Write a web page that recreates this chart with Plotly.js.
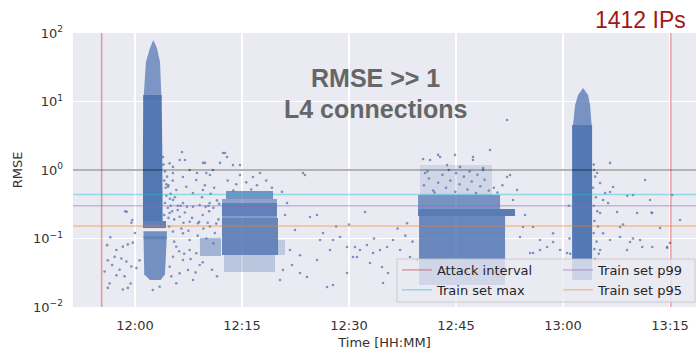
<!DOCTYPE html>
<html><head><meta charset="utf-8">
<script src="https://cdn.plot.ly/plotly-3.0.1.min.js"></script>
<style>html,body{margin:0;padding:0;background:#fff;}#chart{width:696px;height:353px;}</style>
</head><body><div id="chart"></div>
<script>
// ---------- data (time in minutes after 12:00, RMSE values) ----------
const DAY = '2024-01-01 ';
const xStart = '11:51:19', xEnd = '13:18:38';
const attackInterval = ['11:55:20', '13:15:06'];
const rmseOne = 1.0;
const trainMax = 0.44, trainP99 = 0.30, trainP95 = 0.152;
const yTickVals = [0.01, 0.1, 1, 10, 100];
const yTickText = ['10<sup>−2</sup>', '10<sup>−1</sup>', '10<sup>0</sup>', '10<sup>1</sup>', '10<sup>2</sup>'];

// dense regions (outlines)
const aTopT = [2.57, 2.10, 1.54, 1.33, 1.19, 3.72, 3.65, 3.51, 3.08];
const aTopR = [79, 60.4, 37.7, 20.6, 10.5, 10.5, 20.6, 37.7, 60.4];
const aMainT = [1.16, 3.74, 3.83, 3.88, 1.12, 1.12];
const aMainR = [12.4, 12.4, 1.96, 0.18, 0.18, 1.96];
const aBandT = [1.12, 4.35, 4.35, 1.12];
const aBandR = [0.18, 0.18, 0.142, 0.142];
const aLowT = [1.19, 4.49, 4.35, 4.21, 3.6, 2.1, 1.3];
const aLowR = [0.128, 0.128, 0.06, 0.03, 0.0248, 0.0248, 0.03];
const aLowBandT = [1.19, 4.5, 4.5, 1.19];
const aLowBandR = [0.108, 0.108, 0.098, 0.098];

const bLeftT = [9.11, 12.06, 12.06, 9.11];
const bLeftR = [0.102, 0.102, 0.0555, 0.0555];
const bTopT = [12.76, 19.35, 19.35, 12.76];
const bTopR = [0.494, 0.494, 0.377, 0.377];
const bUpT = [12.2, 19.9, 19.9, 12.2];
const bUpR = [0.377, 0.377, 0.33, 0.33];
const bMidT = [12.2, 19.9, 19.9, 12.2];
const bMidR = [0.33, 0.33, 0.213, 0.213];
const bMidGapT = [12.2, 19.9, 19.9, 12.2];
const bMidGapR = [0.213, 0.213, 0.199, 0.199];
const bLowT = [12.2, 20.05, 20.05, 12.2];
const bLowR = [0.199, 0.199, 0.0574, 0.0574];
const bBottomT = [12.48, 19.63, 19.63, 12.48];
const bBottomR = [0.0574, 0.0574, 0.0324, 0.0324];
const bRightT = [19.9, 21.03, 21.03, 19.9];
const bRightR = [0.095, 0.095, 0.0574, 0.0574];

const cTopFadeT = [39.96, 50.05, 50.05, 39.96];
const cTopFadeR = [1.18, 1.18, 0.432, 0.432];
const cUpperT = [39.68, 51.17, 51.17, 39.68];
const cUpperR = [0.432, 0.432, 0.27, 0.27];
const cBandT = [39.68, 53.27, 53.27, 39.68];
const cBandR = [0.27, 0.27, 0.213, 0.213];
const cLowerT = [39.82, 51.87, 51.87, 39.82];
const cLowerR = [0.213, 0.213, 0.021, 0.021];

const dTopT = [62.8, 62.11, 61.69, 61.4, 64.0, 63.79, 63.51];
const dTopR = [15.7, 12.4, 8.89, 4.54, 4.54, 8.89, 12.4];
const dMainT = [61.27, 64.07, 64.07, 61.27];
const dMainR = [4.54, 4.54, 0.0248, 0.0248];

// scattered individual points
const preT = [-1.36,-0.38,-3.46,-3.9,-2.6,-1.7,-1.0,-0.3,-2.85,-1.9,-3.8,-1.2,-3.2,-2.15,-0.5,-4.25,-2.6,-1.45,-3.55,-1.7,-1.0,-3.8,0.2,0.65,0.0,-1.16,-0.5,2.5,3.46,-0.6];
const preR = [0.25,0.186,0.104,0.08,0.068,0.076,0.082,0.087,0.054,0.051,0.048,0.046,0.041,0.035,0.039,0.033,0.029,0.028,0.022,0.018,0.019,0.019,0.037,0.048,0.12,0.246,0.17,0.0177,0.0198,0.022];
const tailAT = [4.0,4.2,4.5,4.1,4.7,4.3,5.0,4.4,4.9,5.6,4.2,4.6,5.2,4.1,4.7,5.5,4.4,5.3];
const tailAR = [1.2,0.95,0.8,0.7,0.6,0.55,0.45,0.42,0.38,0.4,0.33,0.28,0.25,0.22,0.2,0.19,0.62,0.7];
const midT = [4.86,6.27,5.33,6.73,7.67,8.59,10.0,4.63,5.79,7.19,8.13,9.53,5.33,6.73,8.13,9.07,10.47,4.86,6.27,7.67,8.83,5.33,6.73,7.67,5.79,5.33,6.73,7.67,8.59,4.86,6.27,7.43,9.07,5.79,8.13,12.34,12.9,11.92,13.74,14.72,10.94,9.81,3.93,5.33,6.59,7.01,9.53,12.62,8.69,10.51,14.72,16.54,17.52,23.55,5.0,6.0,7.0,8.0,9.5,10.5,11.2,4.8,6.5,7.5,8.8,10.0,11.0,5.5,6.2,7.8,9.5,10.8,11.5,5.1,8.5,6.9,13.0,14.2,15.6,17.1,18.4,19.2,16.3,13.8,20.6,6.0,6.4,7.3,9.9,10.3,11.0,6.8,9.0,10.2,11.4,11.7,9.4,10.6,11.5,9.8,11.1,10.4,11.8,9.6];
const midR = [1.25,1.40,0.904,0.79,1.0,0.714,0.904,0.57,0.51,0.57,0.461,0.51,0.365,0.33,0.291,0.308,0.33,0.236,0.208,0.176,0.167,0.126,0.119,0.095,0.0759,0.0542,0.0485,0.068,0.0608,0.0387,0.031,0.0347,0.041,0.0222,0.0248,1.77,1.55,1.27,1.18,1.18,1.0,1.27,1.55,1.11,1.83,1.40,1.27,1.77,0.904,0.845,0.845,0.79,0.904,0.904,0.3,0.26,0.24,0.2,0.22,0.15,0.12,0.15,0.14,0.13,0.11,0.1,0.085,0.09,0.065,0.05,0.045,0.035,0.028,0.028,0.032,0.06,0.7,0.62,0.66,0.6,0.7,0.55,0.52,0.5,0.48,0.3,0.3,0.29,0.29,0.3,0.28,0.17,0.175,0.17,0.165,0.19,0.4,0.45,0.36,0.6,0.55,0.25,0.32,0.14];
const gapT = [21.31,24.53,25.51,23.83,26.36,27.76,28.74,27.34,29.72,23.13,24.11,25.51,26.92,27.76,29.72,30.56,21.73,20.75,20.33,30.84,31.54,32.52,33.37,34.35,35.33,32.94,34.63,35.47,34.77,36.17,38.13,38.55,39.53,37.16,31.12,32.24,21.03,22.43,23.13,22.01,25.94,36.8,37.9,33.5,30.0,28.2,38.9];
const gapR = [0.33,0.206,0.22,0.845,0.12,0.095,0.105,0.068,0.0751,0.0313,0.0274,0.0485,0.0196,0.021,0.0313,0.0537,0.068,0.0347,0.0248,0.0751,0.068,0.0804,0.0614,0.068,0.0751,0.0439,0.0384,0.0313,0.0224,0.095,0.167,0.0537,0.0485,0.068,0.0537,0.244,0.22,0.133,0.057,0.041,0.095,0.14,0.11,0.1,0.16,0.15,0.09];
const topCT = [40.5,41.2,41.8,42.5,43.1,43.6,44.2,44.9,45.5,46.1,46.6,47.2,47.8,48.4,49.0,49.6,50.3,41.0,44.0,46.9,42.0,45.0,48.0,50.8,51.5];
const topCR = [0.6,0.75,0.5,0.65,0.85,0.55,0.7,0.48,0.62,0.8,0.52,0.68,0.46,0.58,0.72,0.5,0.55,0.95,1.0,0.95,0.47,0.9,0.85,0.47,0.6];
const postCT = [42.48,44.86,49.77,47.38,41.36,43.74,45.56,48.79,40.66,52.15,40.38,42.76,47.38,48.79,52.15,52.57,53.97,56.78,57.76,58.6,59.58,55.8,54.39,55.8,58.6,56.78,55.38,60.56,52.99,53.55,54.67];
const postCR = [1.66,1.66,1.96,1.40,1.40,1.18,1.11,1.07,0.904,0.79,1.45,1.55,1.55,1.0,5.37,0.845,0.105,0.095,0.0751,0.0888,0.068,0.0614,0.147,0.147,0.119,0.068,0.0614,0.0614,0.365,0.51,0.22];
const baseDT = [64.3,64.5,64.2,64.6,64.3,64.8,64.4,64.9,64.3,64.7,64.4,65.0,64.5,60.9,60.8,61.0];
const baseDR = [1.2,0.8,0.55,0.4,0.3,0.25,0.18,0.15,0.12,0.09,0.07,0.06,0.05,0.1,0.3,0.06];
const postDT = [64.77,65.19,65.89,66.59,67.01,65.61,66.31,65.19,67.57,67.99,69.81,72.2,72.48,70.38,65.61,66.59,65.19,67.99,69.39,68.97,70.8,74.58,75.0,66.59,64.35,71.5,73.6,76.4,75.3,69.0,72.4,72.5,68.4,69.8,71.1,74.6];
const postDR = [0.904,0.646,0.461,0.477,0.565,0.365,0.33,0.236,0.244,0.147,0.432,0.365,0.236,0.236,0.119,0.095,0.068,0.105,0.0888,0.068,0.095,0.0751,0.0863,1.27,1.0,0.714,0.142,0.186,0.432,0.42,0.24,0.075,0.16,0.1,0.075,0.073];

// ---------- helpers ----------
function pad(n, w) { let s = String(n); while (s.length < w) s = '0' + s; return s; }
function clock(m) {
  const total = 43200 + m * 60;
  const h = Math.floor(total / 3600);
  const mi = Math.floor((total - h * 3600) / 60);
  const sec = total - h * 3600 - mi * 60;
  const sInt = Math.floor(sec);
  const frac = Math.min(999, Math.round((sec - sInt) * 1000));
  return DAY + pad(h, 2) + ':' + pad(mi, 2) + ':' + pad(sInt, 2) + '.' + pad(frac, 3);
}
const BLUE = '76,114,176';
function poly(t, r, alpha) {
  return { type: 'scatter', x: t.map(clock), y: r, mode: 'lines', fill: 'toself',
    fillcolor: 'rgba(' + BLUE + ',' + alpha + ')', line: { width: 0 }, showlegend: false, hoverinfo: 'skip' };
}
const traces = [
  poly(aTopT, aTopR, 0.7), poly(aMainT, aMainR, 0.95), poly(aBandT, aBandR, 0.88),
  poly(aLowT, aLowR, 0.75), poly(aLowBandT, aLowBandR, 0.5),
  poly(bLeftT, bLeftR, 0.45), poly(bTopT, bTopR, 0.72),
  poly(bUpT, bUpR, 0.6), poly(bMidT, bMidR, 0.88), poly(bMidGapT, bMidGapR, 0.65),
  poly(bLowT, bLowR, 0.84), poly(bBottomT, bBottomR, 0.3), poly(bRightT, bRightR, 0.28),
  poly(cTopFadeT, cTopFadeR, 0.16), poly(cUpperT, cUpperR, 0.72), poly(cBandT, cBandR, 0.92),
  poly(cLowerT, cLowerR, 0.82),
  poly(dTopT, dTopR, 0.72), poly(dMainT, dMainR, 0.95)
];
const sT = preT.concat(tailAT, midT, gapT, topCT, postCT, baseDT, postDT);
const sR = preR.concat(tailAR, midR, gapR, topCR, postCR, baseDR, postDR);
traces.push({ type: 'scatter', mode: 'markers', x: sT.map(clock), y: sR,
  marker: { size: 2.6, color: 'rgba(' + BLUE + ',0.72)', line: { width: 0 } }, showlegend: false, hoverinfo: 'skip' });

const xs = [DAY + xStart, DAY + xEnd];
function hline(v, color, name, legend) {
  return { type: 'scatter', mode: 'lines', x: xs, y: [v, v], line: { color: color, width: 1.5 },
    name: name, showlegend: !!name, legend: legend, hoverinfo: 'skip' };
}
traces.push(hline(rmseOne, 'rgba(0,0,0,0.4)', null, 'legend'));
traces.push({ type: 'scatter', mode: 'lines', name: 'Attack interval', legend: 'legend',
  x: [DAY + attackInterval[0], DAY + attackInterval[0], null, DAY + attackInterval[1], DAY + attackInterval[1]],
  y: [yTickVals[0], yTickVals[4], null, yTickVals[0], yTickVals[4]],
  line: { color: 'rgba(214,39,40,0.42)', width: 1.5 }, hoverinfo: 'skip' });
traces.push(hline(trainMax, 'rgba(23,190,207,0.42)', 'Train set max', 'legend'));
traces.push(hline(trainP99, 'rgba(148,103,189,0.42)', 'Train set p99', 'legend2'));
traces.push(hline(trainP95, 'rgba(255,127,14,0.42)', 'Train set p95', 'legend2'));

const tickFont = { family: 'DejaVu Sans, sans-serif', size: 13, color: '#333333' };
const legFont = { family: 'DejaVu Sans, sans-serif', size: 13, color: '#262626' };
const bigFont = { family: 'Liberation Sans, Arial, sans-serif', size: 25, color: '#666666', weight: 'bold' };
const layout = {
  width: 696, height: 353,
  margin: { l: 73, r: 0, t: 33, b: 46 },
  paper_bgcolor: '#ffffff', plot_bgcolor: '#eaeaf2',
  showlegend: true,
  xaxis: {
    type: 'date', range: xs, tickformat: '%H:%M', dtick: 900000, tick0: DAY + '12:00',
    showgrid: true, gridcolor: '#ffffff', gridwidth: 1.2, zeroline: false, showline: false,
    ticks: '', tickfont: tickFont, ticklabelstandoff: 9,
    title: { text: 'Time [HH:MM]', font: tickFont, standoff: 5 }
  },
  yaxis: {
    type: 'log', range: [-2, 2], tickvals: yTickVals, ticktext: yTickText,
    showgrid: true, gridcolor: '#ffffff', gridwidth: 1.2, zeroline: false, showline: false,
    ticks: '', tickfont: tickFont, ticklabelstandoff: 9,
    title: { text: 'RMSE', font: tickFont, standoff: 7 }
  },
  legend: { x: 0.52, y: 0.19, xanchor: 'left', yanchor: 'top', bgcolor: 'rgba(0,0,0,0)',
    borderwidth: 0, font: legFont },
  legend2: { x: 0.7785, y: 0.19, xanchor: 'left', yanchor: 'top', bgcolor: 'rgba(0,0,0,0)',
    borderwidth: 0, font: legFont },
  shapes: [{ type: 'rect', xref: 'paper', yref: 'paper', x0: 0.52, x1: 0.9984, y0: 0.018, y1: 0.175,
    fillcolor: 'rgba(234,234,242,0.8)', line: { color: 'rgba(200,200,200,0.9)', width: 1 }, layer: 'above' }],
  annotations: [
    { text: 'RMSE >> 1', xref: 'paper', yref: 'paper', x: 0.485, y: 0.836, xanchor: 'center', yanchor: 'middle',
      showarrow: false, font: bigFont },
    { text: 'L4 connections', xref: 'paper', yref: 'paper', x: 0.485, y: 0.723, xanchor: 'center', yanchor: 'middle',
      showarrow: false, font: bigFont },
    { text: '1412 IPs', xref: 'paper', yref: 'paper', x: 0.987, y: 1.047, xanchor: 'right', yanchor: 'middle',
      showarrow: false, font: { family: 'Liberation Sans, Arial, sans-serif', size: 23, color: '#a31515' } }
  ]
};
Plotly.newPlot('chart', traces, layout, { staticPlot: true, displayModeBar: false });
</script>
</body></html>
